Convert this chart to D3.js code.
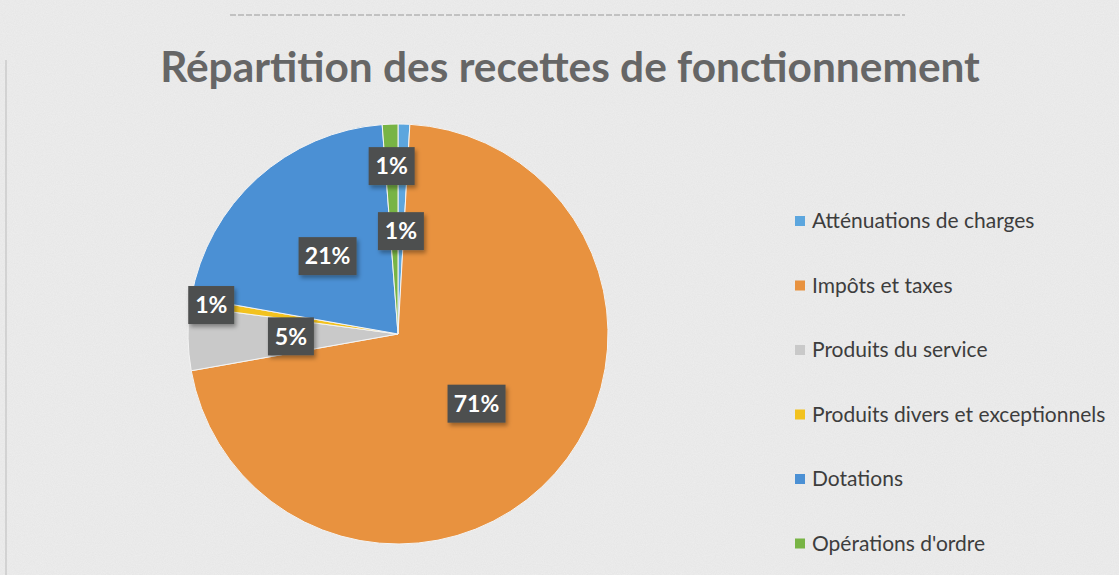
<!DOCTYPE html>
<html>
<head>
<meta charset="utf-8">
<script src="https://cdn.jsdelivr.net/npm/d3@7"></script>
<style>
  html, body { margin: 0; padding: 0; background: #ececec; }
  svg { display: block; }
</style>
</head>
<body>
<div id="chart"></div>
<script>
// data
var CATEGORIES = ['Atténuations de charges', 'Impôts et taxes', 'Produits du service',
  'Produits divers et exceptionnels', 'Dotations', "Opérations d'ordre"];
var VALUES = [0.9, 71.3, 4.9, 0.7, 21.0, 1.2];
var LABELS = ['1%', '71%', '5%', '1%', '21%', '1%'];
var TITLE = 'Répartition des recettes de fonctionnement';

var COLORS = ['#5ca6de', '#e8923f', '#c9c9c9', '#f2c21f', '#4b90d4', '#78b445'];
// how far out each data label sits (fraction of radius)
var LABEL_RADIUS = [0.49, 0.5, 0.51, 0.9, 0.5, 0.8];

var WIDTH = 1119, HEIGHT = 575;
var CX = 398, CY = 334, R = 210;

var svg = d3.select('#chart').append('svg')
  .attr('width', WIDTH)
  .attr('height', HEIGHT);

// paper-like grain
var defs = svg.append('defs');
var noise = defs.append('filter').attr('id', 'grain')
  .attr('x', 0).attr('y', 0).attr('width', '100%').attr('height', '100%');
noise.append('feTurbulence').attr('type', 'fractalNoise')
  .attr('baseFrequency', 0.9).attr('numOctaves', 2).attr('seed', 3);
noise.append('feColorMatrix').attr('type', 'matrix')
  .attr('values', '0 0 0 0 0.5  0 0 0 0 0.5  0 0 0 0 0.5  0 0 0 0.35 0');

var shadow = defs.append('filter').attr('id', 'shadow')
  .attr('x', '-20%').attr('y', '-20%').attr('width', '150%').attr('height', '160%');
shadow.append('feDropShadow').attr('dx', 2).attr('dy', 3).attr('stdDeviation', 2)
  .attr('flood-color', '#000').attr('flood-opacity', 0.35);

svg.append('rect').attr('width', WIDTH).attr('height', HEIGHT).attr('fill', '#eeeeee');
svg.append('rect').attr('width', WIDTH).attr('height', HEIGHT).attr('filter', 'url(#grain)').attr('opacity', 0.5);

// scan edges
svg.append('line').attr('x1', 230).attr('x2', 905).attr('y1', 15).attr('y2', 15)
  .attr('stroke', '#9a9a9a').attr('stroke-width', 1.2).attr('stroke-dasharray', '6,2');
svg.append('line').attr('x1', 6).attr('x2', 6).attr('y1', 60).attr('y2', 575)
  .attr('stroke', '#bbbbbb').attr('stroke-width', 1);

// title
var title = svg.append('text')
  .attr('x', 570).attr('y', 82)
  .attr('text-anchor', 'middle')
  .attr('font-family', 'Lato, "Open Sans", sans-serif')
  .attr('font-weight', 'bold')
  .attr('font-size', 46)
  .attr('fill', '#666666')
  .text(TITLE);
var tw = title.node().getComputedTextLength();
title.attr('font-size', 46 * 820 / tw);

// pie
var pie = d3.pie().sort(null).value(function(d) { return d; });
var arcs = pie(VALUES);
var arc = d3.arc().innerRadius(0).outerRadius(R);

var g = svg.append('g').attr('transform', 'translate(' + CX + ',' + CY + ')');

g.selectAll('path.slice')
  .data(arcs)
  .enter().append('path')
    .attr('class', 'slice')
    .attr('d', arc)
    .attr('fill', function(d, i) { return COLORS[i]; })
    .attr('stroke', '#f4f4f4')
    .attr('stroke-width', 1);

// data labels
var lbl = g.selectAll('g.lbl')
  .data(arcs)
  .enter().append('g')
    .attr('class', 'lbl')
    .attr('transform', function(d, i) {
      var a = (d.startAngle + d.endAngle) / 2;
      var r = R * LABEL_RADIUS[i];
      return 'translate(' + (Math.sin(a) * r) + ',' + (-Math.cos(a) * r) + ')';
    });

lbl.append('rect')
  .attr('x', function(d, i) { return LABELS[i].length > 2 ? -29 : -23; })
  .attr('y', -19)
  .attr('width', function(d, i) { return LABELS[i].length > 2 ? 58 : 46; })
  .attr('height', 38)
  .attr('fill', '#4e504f')
  .attr('filter', 'url(#shadow)');

lbl.append('text')
  .attr('text-anchor', 'middle')
  .attr('dy', '0.36em')
  .attr('font-family', 'Lato, "Open Sans", sans-serif')
  .attr('font-weight', 'bold')
  .attr('font-size', 23)
  .attr('fill', '#ffffff')
  .text(function(d, i) { return LABELS[i]; });

// legend
var legend = svg.append('g').attr('transform', 'translate(795,221)');
var rows = legend.selectAll('g')
  .data(CATEGORIES)
  .enter().append('g')
    .attr('transform', function(d, i) { return 'translate(0,' + (i * 64.5) + ')'; });

rows.append('rect')
  .attr('x', 0).attr('y', -5)
  .attr('width', 10).attr('height', 10)
  .attr('fill', function(d, i) { return COLORS[i]; });

rows.append('text')
  .attr('x', 17)
  .attr('dy', '0.35em')
  .attr('font-family', 'Lato, "Open Sans", sans-serif')
  .attr('font-size', 21)
  .attr('fill', '#3d3d3d')
  .text(function(d) { return d; });
</script>
</body>
</html>
